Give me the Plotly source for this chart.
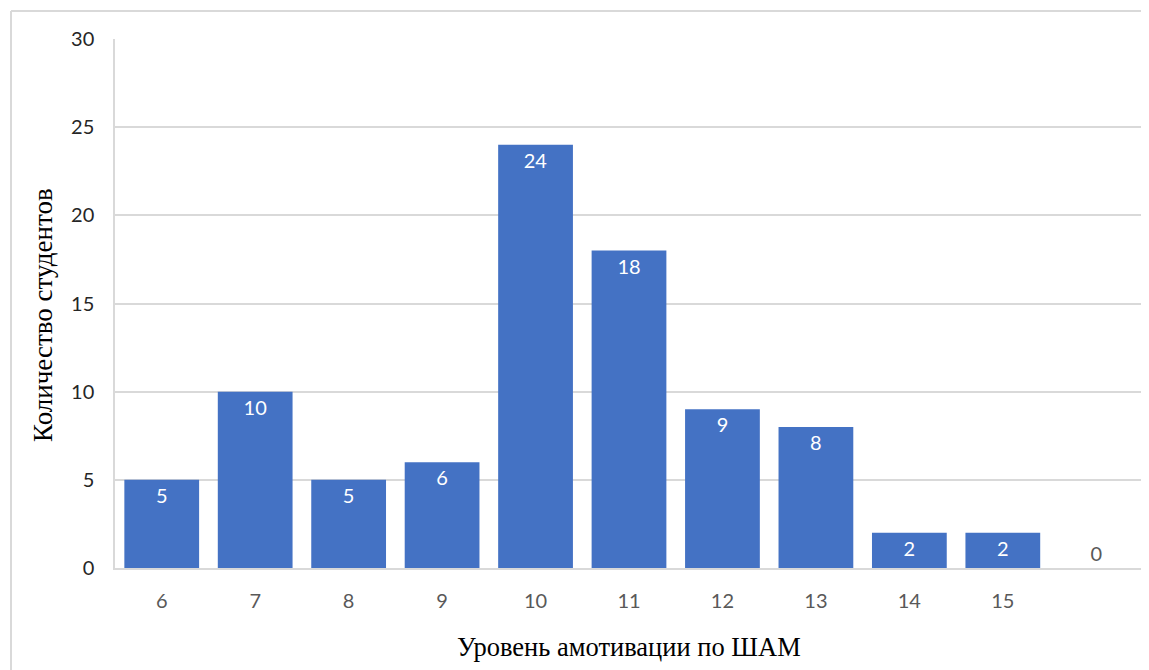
import plotly.graph_objects as go

categories = ["6", "7", "8", "9", "10", "11", "12", "13", "14", "15", " "]
counts = [5, 10, 5, 6, 24, 18, 9, 8, 2, 2, 0]
y_ticks = [0, 5, 10, 15, 20, 25, 30]
x_title = "Уровень амотивации по ШАМ"
y_title = "Количество студентов"

text_pos = ["inside" if v > 0 else "outside" for v in counts]
text_col = ["white" if v > 0 else "#595959" for v in counts]

fig = go.Figure()
fig.add_trace(go.Bar(
    x=categories, y=counts,
    marker=dict(color="#4472C4", line=dict(width=0)),
    text=[str(v) for v in counts],
    textposition=text_pos,
    insidetextanchor="end",
    textfont=dict(family="Lato", size=20, color=text_col),
    outsidetextfont=dict(family="Lato", size=20, color="#595959"),
    constraintext="none",
    cliponaxis=False,
))

# page has an 8px body margin, so the figure is placed at (8, 8)
OFF = 8
W, H = 1149 - OFF, 670 - OFF
L, T = 115 - OFF, 39 - OFF
R = W - (1143 - OFF)
B = H - (568 - OFF)
pw, ph = W - L - R, H - T - B
plot_bottom = H - B

fig.update_layout(
    width=W, height=H,
    margin=dict(l=L, r=R, t=T, b=B),
    paper_bgcolor="white", plot_bgcolor="white",
    bargap=0.2,
    showlegend=False,
    xaxis=dict(
        type="category",
        tickfont=dict(family="Lato", size=20, color="#595959"),
        showline=True, linecolor="#d9d9d9", linewidth=1.5,
        showgrid=False, ticks="",
        ticklabelstandoff=14,
    ),
    yaxis=dict(
        range=[0, 30], tickvals=y_ticks,
        tickfont=dict(family="Lato", size=20, color="#262626"),
        showline=True, linecolor="#d9d9d9", linewidth=1.5,
        showgrid=True, gridcolor="#d9d9d9", gridwidth=1.5,
        zeroline=False, ticks="",
        ticklabelstandoff=15,
    ),
)

fig.add_annotation(text=x_title, xref="paper", yref="paper",
                   x=0.5, y=(plot_bottom - (647 - OFF)) / ph,
                   xanchor="center", yanchor="middle", showarrow=False,
                   font=dict(family="Liberation Serif", size=26.5, color="black"))
fig.add_annotation(text=y_title, xref="paper", yref="paper",
                   x=((43 - OFF) - L) / pw, y=(plot_bottom - (315 - OFF)) / ph,
                   xanchor="center", yanchor="middle", showarrow=False, textangle=-90,
                   font=dict(family="Liberation Serif", size=27, color="black"))

# outer frame lines (top and left), as in the reference image
x_left = (11 - OFF - L) / pw
x_right = (W - L) / pw
y_top = 1 + (T - (11 - OFF)) / ph
y_bot = -B / ph
fig.add_shape(type="line", xref="paper", yref="paper",
              x0=x_left, x1=x_right, y0=y_top, y1=y_top,
              line=dict(color="#d9d9d9", width=2))
fig.add_shape(type="line", xref="paper", yref="paper",
              x0=x_left, x1=x_left, y0=y_top, y1=y_bot,
              line=dict(color="#d9d9d9", width=2))

fig.write_html("out.html")
